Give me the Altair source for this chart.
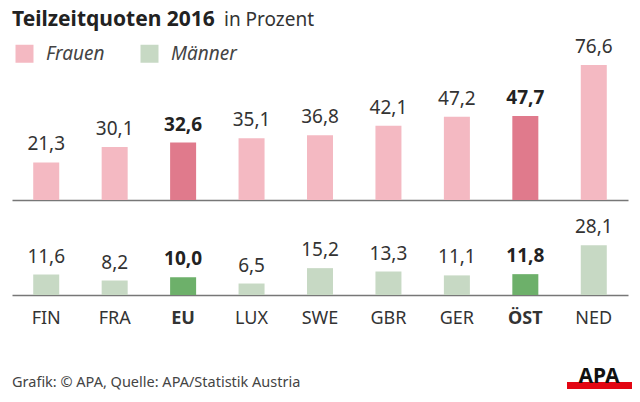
import altair as alt
import pandas as pd

laender = ["FIN", "FRA", "EU", "LUX", "SWE", "GBR", "GER", "ÖST", "NED"]
frauen = [21.3, 30.1, 32.6, 35.1, 36.8, 42.1, 47.2, 47.7, 76.6]
maenner = [11.6, 8.2, 10.0, 6.5, 15.2, 13.3, 11.1, 11.8, 28.1]
hervorgehoben = ["EU", "ÖST"]

titel = "Teilzeitquoten 2016"
untertitel = "in Prozent"
quelle = "Grafik: © APA, Quelle: APA/Statistik Austria"
logo = "APA"

FONT = "Noto Sans"


def frame(values, name):
    df = pd.DataFrame({"Land": laender, "Wert": values})
    df["hl"] = df["Land"].isin(hervorgehoben)
    df["Farbe"] = [name + (" hl" if h else "") for h in df["hl"]]
    df["Label"] = [f"{v:.1f}".replace(".", ",") for v in values]
    return df


df_f = frame(frauen, "Frauen")
df_m = frame(maenner, "Männer")

color = alt.Color(
    "Farbe:N",
    scale=alt.Scale(
        domain=["Frauen", "Männer", "Frauen hl", "Männer hl"],
        range=["#f4b9c2", "#c7d9c4", "#e07a8c", "#6db06a"],
    ),
    legend=alt.Legend(
        values=["Frauen", "Männer"],
        title=None,
        orient="none",
        legendX=3,
        legendY=-15,
        direction="horizontal",
        symbolType="square",
        symbolSize=324,
        symbolStrokeWidth=0,
        symbolOpacity=1,
        labelFontSize=19,
        labelFontStyle="italic",
        labelFont=FONT,
        labelColor="#444444",
        labelOffset=12,
        columnPadding=35,
    ),
)

xscale = alt.Scale(paddingInner=0.62, paddingOuter=0.31)


def panel(df, domain, show_labels):
    if show_labels:
        xaxis = alt.Axis(
            title=None, ticks=False, domainColor="#777777", domainWidth=1.5,
            labelFontSize=18, labelFont=FONT, labelColor="#333333",
            labelPadding=14, labelAngle=0,
            labelFontWeight=alt.expr("datum.value == 'EU' || datum.value == 'ÖST' ? 'bold' : 'normal'"),
        )
    else:
        xaxis = alt.Axis(title=None, ticks=False, labels=False,
                         domainColor="#777777", domainWidth=1.5)
    base = alt.Chart(df).encode(
        x=alt.X("Land:N", sort=laender, scale=xscale, axis=xaxis),
        y=alt.Y("Wert:Q", scale=alt.Scale(domain=domain, nice=False), axis=None),
    )
    bars = base.mark_bar().encode(color=color)
    txt_n = base.transform_filter("!datum.hl").mark_text(
        baseline="alphabetic", dy=-12, fontSize=19, font=FONT, color="#333333"
    ).encode(text="Label:N")
    txt_b = base.transform_filter("datum.hl").mark_text(
        baseline="alphabetic", dy=-12, fontSize=19, font=FONT, color="#222222",
        fontWeight="bold",
    ).encode(text="Label:N")
    return [bars, txt_n, txt_b]


top_layers = panel(df_f, [0, 80], False)
head = alt.Chart(pd.DataFrame({"t": [titel]})).mark_text(
    align="left", baseline="alphabetic", fontSize=21, font=FONT,
    fontWeight="bold", color="#222222"
).encode(text="t:N", x=alt.value(0), y=alt.value(-33))
sub = alt.Chart(pd.DataFrame({"t": [untertitel]})).mark_text(
    align="left", baseline="alphabetic", fontSize=19, font=FONT, color="#333333"
).encode(text="t:N", x=alt.value(212), y=alt.value(-33))
top = alt.layer(*top_layers, head, sub).properties(width=616, height=141)

bottom_layers = panel(df_m, [0, 30], True)
foot = alt.Chart(pd.DataFrame({"t": [quelle]})).mark_text(
    align="left", baseline="alphabetic", fontSize=14.5, font=FONT, color="#444444"
).encode(text="t:N", x=alt.value(0), y=alt.value(145))
logo_bar = alt.Chart(pd.DataFrame({"t": [logo]})).mark_rect(color="#e30613").encode(
    x=alt.value(555), x2=alt.value(620), y=alt.value(140), y2=alt.value(147)
)
logo_txt = alt.Chart(pd.DataFrame({"t": [logo]})).mark_text(
    align="center", baseline="alphabetic", fontSize=21, font=FONT,
    fontWeight="bold", color="#111111"
).encode(text="t:N", x=alt.value(587), y=alt.value(141))
bottom = alt.layer(*bottom_layers, foot, logo_bar, logo_txt).properties(width=616, height=53)

chart = alt.vconcat(top, bottom, spacing=42, bounds="flush").properties(
    padding={"left": 4, "top": 1, "right": 0, "bottom": 0},
).configure_view(stroke=None).configure_concat(spacing=42)

chart.save("out.html", embed_options={"renderer": "svg", "actions": False})
